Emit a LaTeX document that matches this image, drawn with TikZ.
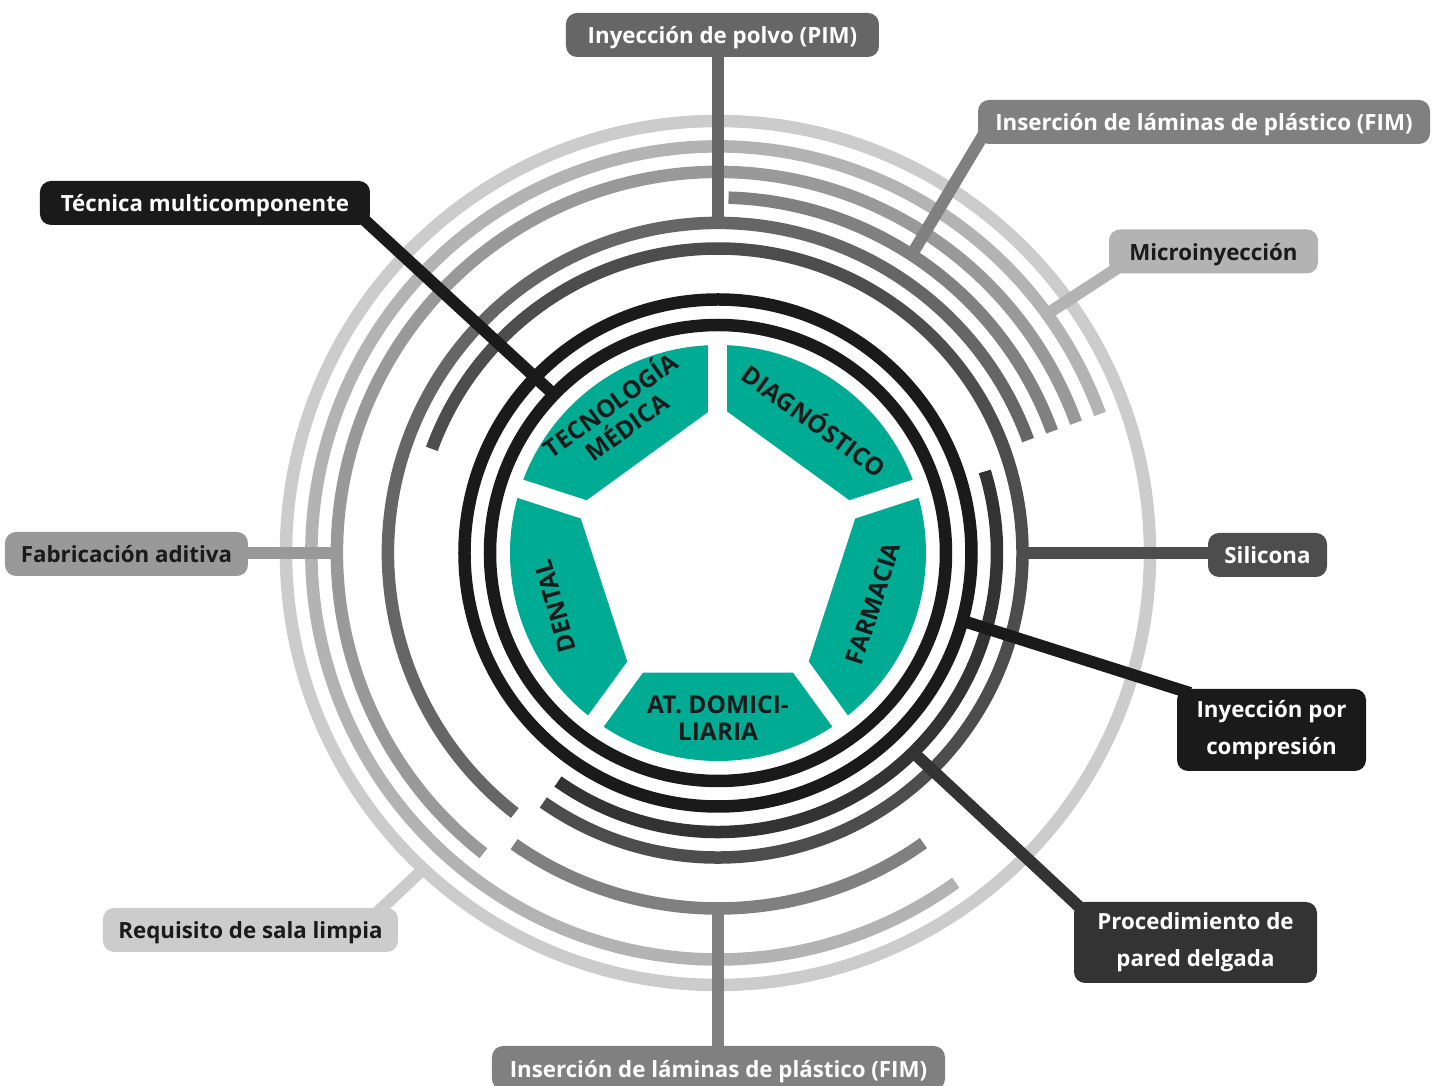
\documentclass[tikz,border=0pt]{standalone}
\usepackage{fontspec}
\setmainfont{Open Sans}
\usetikzlibrary{backgrounds,calc}

\definecolor{gA}{HTML}{1A1A1A}
\definecolor{gB}{HTML}{333333}
\definecolor{gC}{HTML}{4D4D4D}
\definecolor{gD}{HTML}{666666}
\definecolor{gE}{HTML}{808080}
\definecolor{gF}{HTML}{999999}
\definecolor{gG}{HTML}{B3B3B3}
\definecolor{gH}{HTML}{CCCCCC}
\definecolor{turquesa}{HTML}{00AB94}

\begin{document}
\begin{tikzpicture}[x=1pt,y=1pt,
    etiqueta/.style={rounded corners=11pt, inner xsep=2pt, minimum height=44pt,
      font=\fontsize{22.3}{37}\selectfont\bfseries, text=white, align=center},
    linea/.style={etiqueta, text height=20pt, text depth=2pt},
    anillo/.style={line width=12.5pt},
    conector/.style={line width=12pt, shorten >=-14pt},
    sector/.style={font=\fontsize{24.5}{27.5}\selectfont\bfseries, text=gA, align=center}]

    \useasboundingbox (-718,-533) rectangle (718,553);
    \clip (-718,-533) rectangle (718,553);

    % Etiquetas
    \node[linea, fill=gD, minimum width=313] (pim) at (4.5,518) {Inyección de polvo (PIM)};
    \node[linea, fill=gE, minimum width=452] (fimA) at (486,431) {Inserción de láminas de plástico (FIM)};
    \node[linea, fill=gG, minimum width=209, text=gA] (micro) at (495.5,301.5) {Microinyección};
    \node[linea, fill=gA, minimum width=330] (tec) at (-513,350) {Técnica multicomponente};
    \node[linea, fill=gF, minimum width=243, text=gA] (fab) at (-591.5,-1) {Fabricación aditiva};
    \node[linea, fill=gC, minimum width=119] (sil) at (549.5,-2) {Silicona};
    \node[etiqueta, fill=gA, minimum width=189, minimum height=82] (comp) at (553.5,-177) {Inyección por\\compresión};
    \node[etiqueta, fill=gB, minimum width=243, minimum height=81] (pared) at (477.5,-389.5) {Procedimiento de\\pared delgada};
    \node[linea, fill=gH, minimum width=295, text=gA] (req) at (-467.5,-377) {Requisito de sala limpia};
    \node[linea, fill=gE, minimum width=453] (fimB) at (0.5,-515) {Inserción de láminas de plástico (FIM)};

    % Sectores (textos)
    \node[sector, rotate=36] (tecmed) at (126:171) {TECNOLOGÍA\\MÉDICA};
    \node[sector, rotate=-36] (diag) at (54:165) {DIAGNÓSTICO};
    \node[sector, rotate=72] (farm) at (-18:163) {FARMACIA};
    \node[sector] (domi) at (270:165) {AT. DOMICI-\\LIARIA};
    \node[sector, rotate=106] (dent) at (198:171) {DENTAL};

    \begin{scope}[on background layer]
    % Sectores
    \fill[turquesa] (0,0) circle (208);
    \fill[white] (90:148) -- (162:148) -- (234:148) -- (306:148) -- (18:148) -- cycle;
    \foreach \a in {90,162,234,306,18}
        \draw[white, line width=19pt] (0,0) -- (\a:215);

    % Anillos
    \draw[anillo, gA] (0,0) circle (228);
    \draw[anillo, gA] (0,0) circle (253.5);
    \draw[anillo, gB] (235:279) arc (235:377:279);
    \draw[anillo, gC] (235:304.5) arc (235:520:304.5);
    \draw[anillo, gD] (20:330) arc (20:232:330);
    \draw[anillo, gE] (20:355.5) arc (20:88.3:355.5);
    \draw[anillo, gE] (235:355.5) arc (235:305.3:355.5);
    \draw[anillo, gF] (20:381) arc (20:232:381);
    \draw[anillo, gG] (20:406.5) arc (20:305.8:406.5);
    \draw[anillo, gH] (0,0) circle (432);

    % Conectores
    \coordinate (pim-a) at (90:330);
    \coordinate (fimA-a) at (57:355.5);
    \coordinate (micro-a) at (36:406.5);
    \coordinate (tec-a) at (136:228);
    \coordinate (fab-a) at (180:381);
    \coordinate (sil-a) at (0:304.5);
    \coordinate (comp-a) at (-15.5:253.5);
    \coordinate (pared-a) at (-45.6:279);
    \coordinate (req-a) at (227:432);
    \coordinate (fimB-a) at (270:355.5);
    \draw[conector, gD] (pim-a) -- (pim-a |- pim.south);
    \draw[conector, gE] (fimA-a) -- (fimA.south west);
    \draw[conector, gG] (micro-a) -- (micro.south west);
    \draw[conector, gA] (tec-a) -- (tec.south east);
    \draw[conector, gF] (fab-a) -- (fab-a -| fab.east);
    \draw[conector, gC] (sil-a) -- (sil-a -| sil.west);
    \draw[conector, gA] (comp-a) -- (comp.north west);
    \draw[conector, gB] (pared-a) -- (pared.north west);
    \draw[conector, gH] (req-a) -- ($(req.north east)+(-16,0)$);
    \draw[conector, gE] (fimB-a) -- (fimB-a |- fimB.north);
    \end{scope}
\end{tikzpicture}
\end{document}
